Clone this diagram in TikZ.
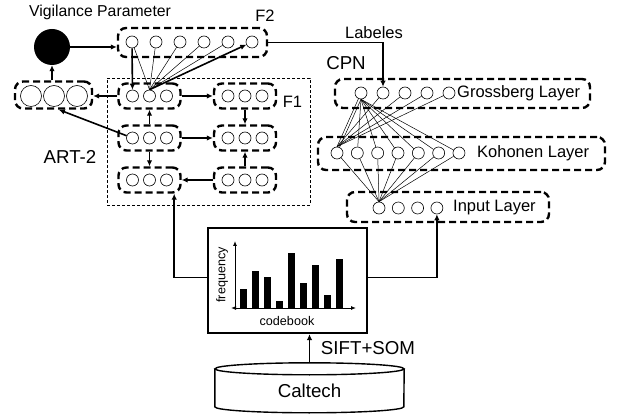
\documentclass[tikz,border=0pt]{standalone}
\usepackage{fontspec}
\setmainfont{Liberation Sans}
\usetikzlibrary{arrows.meta,calc}
\begin{document}
\begin{tikzpicture}[x=1pt,y=-1pt,
 neuron/.style={circle,draw,line width=0.6pt,minimum size=12pt,inner sep=0pt},
 bigneuron/.style={neuron,minimum size=21pt},
 dbox/.style={draw,line width=2.4pt,dash pattern=on 7pt off 4pt,rounded corners=8pt,inner sep=0pt},
 conn/.style={line width=1.6pt,-{Latex[length=6pt,width=5.5pt]}},
 fan/.style={line width=0.5pt},
 lbl/.style={font=\fontsize{16.5}{18}\selectfont,inner sep=0pt},
 biglbl/.style={font=\fontsize{18.7}{20}\selectfont,inner sep=0pt},
 smalllbl/.style={font=\fontsize{12.6}{14}\selectfont,inner sep=0pt},
]
\useasboundingbox (0,0) rectangle (618,419);

% ART-2 enclosure
\node[draw,line width=0.6pt,dash pattern=on 3pt off 2pt,minimum width=203pt,minimum height=127pt,inner sep=0pt] (art) at (208.5,141.5) {};

% vigilance
\node[circle,fill=black,minimum size=36pt,inner sep=0pt] (vig) at (52,47) {};
\node[lbl,font=\fontsize{15.8}{17}\selectfont] (tVig) at (100,12) {Vigilance Parameter};

% F2
\node[dbox,minimum width=149pt,minimum height=29pt] (f2) at (192.5,42.5) {};
\foreach \k in {1,...,6} \node[neuron] (f2-\k) at ({132+24*(\k-1)},42) {};
\node[lbl] (tF2) at (265,16) {F2};

% left box
\node[dbox,minimum width=77pt,minimum height=27pt] (lb) at (53.5,95) {};
\foreach \k in {1,2,3} \node[bigneuron] (lb-\k) at ({31+23*(\k-1)},96) {};

% F1 modules
\foreach \n/\cx/\cy in {TL/149.5/96, TR/245/96, ML/149.5/138, MR/245/138, BL/149.5/180, BR/245/180} {
  \node[dbox,minimum width=62pt,minimum height=25pt] (m\n) at (\cx,\cy) {};
  \foreach \k in {1,2,3} \node[neuron] (m\n-\k) at ({\cx+17*(\k-2)},\cy) {};
}
\node[lbl] (tF1) at (292.5,102) {F1};
\node[biglbl] (tArt) at (70,157) {ART-2};

% ART connections
\draw[conn] (vig) -- (vig -| f2.west);
\draw[conn] (vig |- lb.north) -- (vig);
\draw[conn] (f2-1) -- (mTL-1);
\foreach \i in {1,...,5} \draw[fan] (mTL-2.north) -- (f2-\i);
\draw[conn] (mTL-2.north) -- (f2-6);
\draw[conn] (mTL.west) -- (mTL.west -| lb.east);
\draw[conn] (mTL.east) -- (mTR.west);
\draw[conn] (mTR.south) -- (mMR.north);
\draw[conn] (mML.north) -- (mTL.south);
\draw[conn] (mML.east) -- (mMR.west);
\draw[conn] (mML.south) -- (mBL.north);
\draw[conn] (mBR.north) -- (mMR.south);
\draw[conn] (mBR.west) -- (mBL.east);
\draw[conn] (mML-1) -- (lb.-70);

% CPN
\node[biglbl] (tCpn) at (346,63) {CPN};
\node[lbl] (tLab) at (374,33) {Labeles};
\node[dbox,minimum width=255pt,minimum height=29pt] (gb) at (462.5,93.5) {};
\foreach \k in {1,...,5} \node[neuron] (gc-\k) at ({361+22*(\k-1)},93) {};
\node[lbl,anchor=west] (tG) at (457,93) {Grossberg Layer};
\node[dbox,minimum width=287pt,minimum height=33pt] (kh) at (461.5,153.5) {};
\foreach \k in {1,...,7} \node[neuron] (kc-\k) at ({337+20.33*(\k-1)},153) {};
\node[lbl,anchor=west] (tK) at (477,153) {Kohonen Layer};
\node[dbox,minimum width=202pt,minimum height=30pt] (inl) at (448,207) {};
\foreach \k in {1,...,4} \node[neuron] (ic-\k) at ({379+19.3*(\k-1)},208) {};
\node[lbl,anchor=west] (tI) at (453,208) {Input Layer};

\foreach \k in {1,...,7} \draw[fan] (ic-1.north) -- (kc-\k);
\foreach \k in {1,...,5} \draw[fan] (kc-1.north) -- (gc-\k);
\foreach \k in {1,...,7} \draw[fan] (gc-1.south) -- (kc-\k);
\draw[conn] (f2.east) -| (gc-2.north);

% histogram
\node[draw,line width=2.2pt,minimum width=159pt,minimum height=105pt,inner sep=0pt] (hist) at (287.5,280.5) {};
\draw[line width=0.9pt,-{Latex[length=5pt,width=4pt]}] (235,308) -- (235,241);
\draw[line width=0.9pt,{Latex[length=5pt,width=4pt]}-{Latex[length=5pt,width=4pt]}] (231,308) -- (356,308);
\foreach \x/\t in {243/289,255/271,267/277,279/301,291/253,303/283,315/265,327/295,339/259}
  \fill (\x-3.5,308) rectangle (\x+3.5,\t);
\node[smalllbl,rotate=90] (tFreq) at (222,275) {frequency};
\node[smalllbl] (tCode) at (287,321) {codebook};

\coordinate (artin) at ($(mBL.south east)+(-7.5,0)$);
\draw[conn] ($(hist.west)+(0,-3)$) -| (artin);
\draw[conn] ($(hist.east)+(0,-3)$) -| (ic-4.south);

% Caltech cylinder
\node[biglbl,minimum width=189pt,minimum height=44pt] (cal) at (309.5,391) {Caltech};
\draw[line width=1.4pt] (cal.north west) -- ++(0,38) arc[start angle=180,end angle=360,x radius=94.5pt,y radius=6pt] -- (cal.north east);
\draw[line width=1.4pt] (cal.north) ellipse[x radius=94.5pt,y radius=6pt];
\coordinate (caltop) at ($(cal.north)+(0,-6)$);
\draw[conn] (caltop) -- (caltop |- hist.south);
\node[biglbl] (tSift) at (368,348) {SIFT+SOM};
\end{tikzpicture}
\end{document}
